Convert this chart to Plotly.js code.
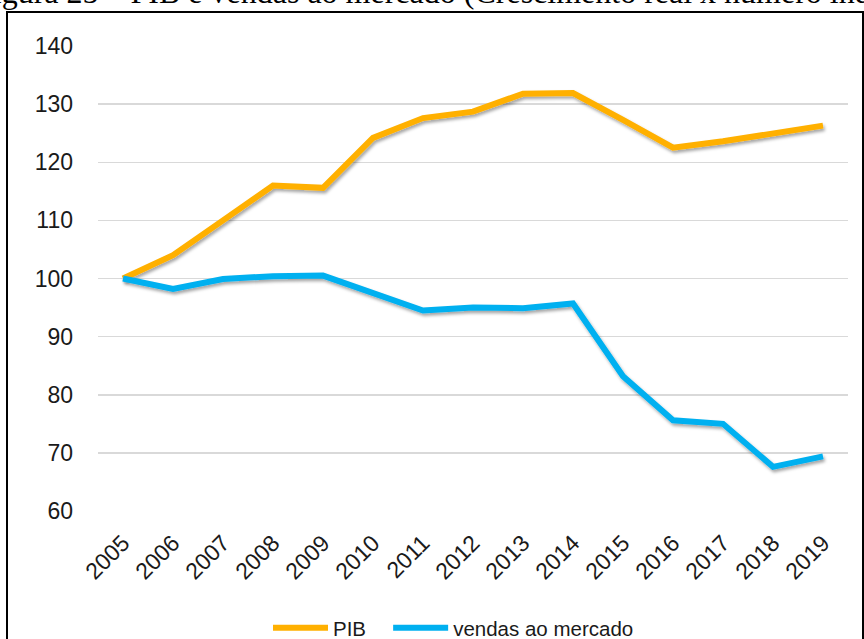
<!DOCTYPE html>
<html>
<head>
<meta charset="utf-8">
<script src="https://cdn.plot.ly/plotly-3.0.1.min.js"></script>
<style>
html,body{margin:0;padding:0;background:#fff;}
#chart{width:864px;height:639px;}
.scatterlayer .js-line{filter:url(#lineshadow);}
</style>
</head>
<body>
<svg width="0" height="0" style="position:absolute">
  <defs>
    <filter id="lineshadow" filterUnits="userSpaceOnUse" x="-100" y="-100" width="1100" height="900">
      <feDropShadow dx="1.5" dy="2.5" stdDeviation="1.5" flood-color="#000" flood-opacity="0.35"/>
    </filter>
  </defs>
</svg>
<div id="chart"></div>
<script>
var years = ["2005","2006","2007","2008","2009","2010","2011","2012","2013","2014","2015","2016","2017","2018","2019"];
var pib = [100, 104, 110, 116, 115.6, 124.2, 127.6, 128.7, 131.8, 131.9, 127.3, 122.5, 123.6, 125, 126.3];
var vendas = [100, 98.2, 99.9, 100.4, 100.5, 97.6, 94.5, 95, 94.9, 95.7, 83.2, 75.6, 75, 67.6, 69.4];
var yTicks = [60, 70, 80, 90, 100, 110, 120, 130, 140];
var seriesNames = ["PIB", "vendas ao mercado"];
var titleText = "Figura 25 – PIB e vendas ao mercado (Crescimento real x número índice)";

var L = 98, T = 46, W = 750, H = 465;
function px(x){ return (x - L) / W; }
function py(y){ return (T + H - y) / H; }

var traces = [
  {x: years, y: pib, name: seriesNames[0] + "\u00a0\u00a0\u00a0", type: "scatter", mode: "lines",
   line: {color: "#FFB000", width: 6}},
  {x: years, y: vendas, name: seriesNames[1], type: "scatter", mode: "lines",
   line: {color: "#00B0F0", width: 6}}
];

var layout = {
  width: 864, height: 639,
  margin: {l: L, r: 864 - L - W, t: T, b: 639 - T - H, autoexpand: false},
  paper_bgcolor: "#fff", plot_bgcolor: "#fff",
  font: {family: "Liberation Sans, Arial, sans-serif", color: "#1a1a1a", size: 23},
  xaxis: {type: "category", range: [-0.5, 14.5], showgrid: false, zeroline: false,
          showline: false, tickangle: -45, ticks: "", tickfont: {size: 23},
          automargin: false, ticklabelstandoff: 13},
  yaxis: {range: [60, 140], tickvals: yTicks, showgrid: true, gridcolor: "#d9d9d9",
          gridwidth: 1.5, zeroline: false, showline: false, ticks: "",
          ticklabelstandoff: 24, tickfont: {size: 23}, automargin: false},
  showlegend: true,
  legend: {orientation: "h", x: px(268), xanchor: "left", y: py(628), yanchor: "middle",
           font: {size: 20.5}, bgcolor: "rgba(0,0,0,0)", itemwidth: 55},
  annotations: [{
    text: titleText, showarrow: false, xref: "paper", yref: "paper",
    x: px(-27), xanchor: "left", y: py(-8.5), yanchor: "middle",
    font: {family: "Liberation Serif, Times New Roman, serif", size: 32, color: "#000"}
  }],
  shapes: [{
    type: "rect", xref: "paper", yref: "paper",
    x0: px(7), x1: px(863), y0: py(720), y1: py(12),
    line: {color: "#000", width: 2}, fillcolor: "rgba(0,0,0,0)", layer: "above"
  }]
};

Plotly.newPlot("chart", traces, layout, {displayModeBar: false, staticPlot: true});
</script>
</body>
</html>
